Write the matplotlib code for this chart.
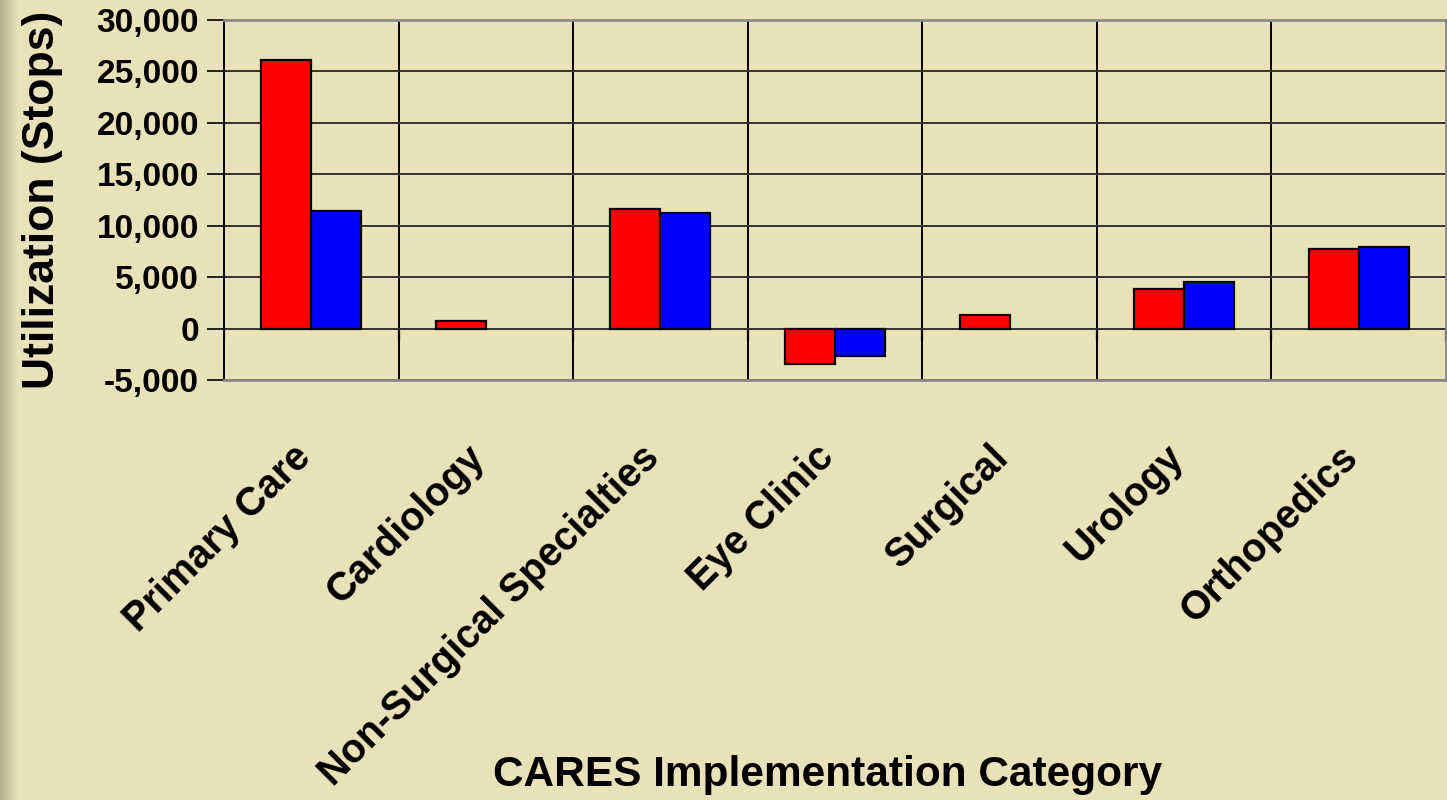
import matplotlib.pyplot as plt
import matplotlib.transforms as mtransforms
import numpy as np
from matplotlib.ticker import FuncFormatter
from matplotlib.colors import LinearSegmentedColormap

categories = ['Primary Care', 'Cardiology', 'Non-Surgical Specialties',
              'Eye Clinic', 'Surgical', 'Urology', 'Orthopedics']
red_values = [26100, 750, 11600, -3400, 1350, 3850, 7750]
blue_values = [11400, np.nan, 11200, -2650, np.nan, 4550, 7950]
y_ticks = [-5000, 0, 5000, 10000, 15000, 20000, 25000, 30000]

bg = '#E9E2B9'
plt.rcParams['font.family'] = ['Liberation Sans', 'DejaVu Sans']
plt.rcParams['font.weight'] = 'bold'

fig = plt.figure(figsize=(14.47, 8), dpi=100, facecolor=bg)

# darker strip on the left edge of the slide
strip = fig.add_axes([0, 0, 0.012, 1])
grad = np.linspace(0, 1, 64).reshape(1, -1)
strip.imshow(grad, aspect='auto', extent=[0, 1, 0, 1],
             cmap=LinearSegmentedColormap.from_list('edge', ['#B3AC8A', bg]))
strip.axis('off')

ax = fig.add_axes([0.1548, 0.525, 0.8445, 0.45])
ax.set_facecolor(bg)

x = np.arange(len(categories))
w = 0.286
ax.bar(x - w / 2, red_values, w, color='#FF0000', edgecolor='black', linewidth=1.6, zorder=3)
ax.bar(x + w / 2, blue_values, w, color='#0000FF', edgecolor='black', linewidth=1.6, zorder=3)

ax.set_xlim(-0.5, len(categories) - 0.5)
ax.set_ylim(-5000, 30000)
ax.set_yticks(y_ticks)
ax.yaxis.set_major_formatter(FuncFormatter(lambda v, p: f'{int(v):,}'))
ax.tick_params(axis='y', labelsize=24, length=12, width=1.2, pad=6)

# horizontal gridlines and category separators
ax.grid(axis='y', color='#333333', linewidth=1.4, zorder=1)
bounds = np.arange(len(categories) + 1) - 0.5
ax.vlines(bounds[1:-1], -5000, 30000, color='black', linewidth=1.4, zorder=1)
ax.vlines(bounds, -1200, 0, color='black', linewidth=1.6, zorder=1)

ax.set_xticks(x)
ax.set_xticklabels(categories, rotation=45, ha='right', rotation_mode='anchor',
                   fontsize=28.5, fontweight='bold')
ax.tick_params(axis='x', length=0, pad=46)
shift = mtransforms.ScaledTranslation(-0.2, 0.06, fig.dpi_scale_trans)
for lbl in ax.get_xticklabels():
    lbl.set_transform(lbl.get_transform() + shift)

for s in ['top', 'right', 'bottom']:
    ax.spines[s].set_color('#8A8A8A')
    ax.spines[s].set_linewidth(2)
ax.spines['left'].set_color('black')
ax.spines['left'].set_linewidth(1.4)

ax.set_ylabel('Utilization (Stops)', fontsize=32, fontweight='bold', labelpad=24)
fig.text(0.572, 0.031, 'CARES Implementation Category', ha='center', va='center',
         fontsize=30.5, fontweight='bold')

fig.savefig('out.png', dpi=100, facecolor=bg)
